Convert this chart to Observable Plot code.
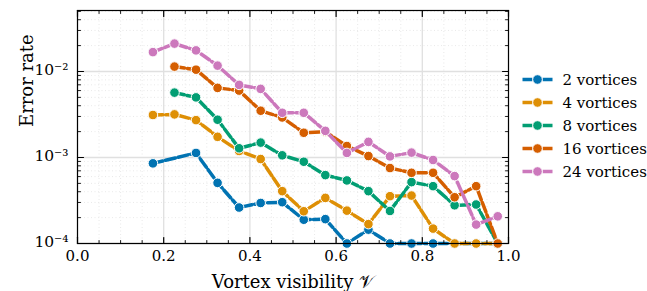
<!DOCTYPE html>
<html><head><meta charset="utf-8">
<script src="https://cdn.jsdelivr.net/npm/d3@7"></script>
<script src="https://cdn.jsdelivr.net/npm/@observablehq/plot@0.6"></script>
<style>
body{margin:0;background:#fff;}
#chart{width:647px;height:291px;}
</style></head><body><div id="chart"></div>
<script>
const visibility = [0.175,0.225,0.275,0.325,0.375,0.425,0.475,0.525,0.575,0.625,0.675,0.725,0.775,0.825,0.875,0.925,0.975];
const seriesNames = ["2 vortices","4 vortices","8 vortices","16 vortices","24 vortices"];
const seriesColors = ["#0173b2","#de8f05","#029e73","#d55e00","#cc78bc"];
const err2  = [8.55e-4,null,1.13e-3,5.07e-4,2.62e-4,2.96e-4,3.02e-4,1.89e-4,1.92e-4,1.0e-4,1.45e-4,1.0e-4,1.0e-4,1.0e-4,1.0e-4,1.0e-4,1.0e-4];
const err4  = [3.12e-3,3.17e-3,2.72e-3,1.74e-3,1.19e-3,9.6e-4,4.06e-4,2.37e-4,3.39e-4,2.41e-4,1.68e-4,3.55e-4,3.61e-4,1.49e-4,1.0e-4,1.0e-4,1.0e-4];
const err8  = [null,5.68e-3,5.0e-3,2.75e-3,1.28e-3,1.49e-3,1.06e-3,8.93e-4,6.24e-4,5.41e-4,4.06e-4,2.39e-4,5.17e-4,4.64e-4,2.78e-4,2.84e-4,1.0e-4];
const err16 = [null,1.14e-2,1.05e-2,6.45e-3,6.0e-3,3.5e-3,2.92e-3,1.94e-3,1.99e-3,1.36e-3,1.04e-3,7.54e-4,6.64e-4,6.64e-4,3.45e-4,4.64e-4,1.0e-4];
const err24 = [1.68e-2,2.11e-2,1.76e-2,1.17e-2,6.99e-3,6.28e-3,3.31e-3,3.31e-3,2.04e-3,1.13e-3,1.52e-3,1.03e-3,1.14e-3,9.35e-4,6.08e-4,1.66e-4,2.07e-4];
const xMajorTicks = [0,0.2,0.4,0.6,0.8,1.0];
const xTickLabels = ["0.0","0.2","0.4","0.6","0.8","1.0"];
const xMinorTicks = [0.05,0.1,0.15,0.25,0.3,0.35,0.45,0.5,0.55,0.65,0.7,0.75,0.85,0.9,0.95];
const yMajorTicks = [1e-4,1e-3,1e-2];
const yTickLabels = ["10\u207B\u2074","10\u207B\u00B3","10\u207B\u00B2"];
const yMinorTicks = [2e-4,3e-4,4e-4,5e-4,6e-4,7e-4,8e-4,9e-4,2e-3,3e-3,4e-3,5e-3,6e-3,7e-3,8e-3,9e-3,2e-2,3e-2,4e-2,5e-2];
const xDomain = [0, 1];
const yDomain = [1e-4, 0.0512];
const xLabel = "Vortex visibility \uD835\uDCB1";
const yLabel = "Error rate";

const allSeries = [err2, err4, err8, err16, err24];
const rows = [];
allSeries.forEach((arr, si) => arr.forEach((v, i) => { if (v != null) rows.push({series: seriesNames[si], x: visibility[i], y: v}); }));

const seriesMarks = [];
seriesNames.forEach((name, si) => {
  const d = rows.filter(r => r.series === name);
  seriesMarks.push(Plot.line(d, {x: "x", y: "y", stroke: seriesColors[si], strokeWidth: 3.5, strokeDasharray: "10,3"}));
  seriesMarks.push(Plot.dot(d, {x: "x", y: "y", r: 4.8, fill: seriesColors[si], stroke: "white", strokeWidth: 1}));
});

const stick = {draw(context, l) { context.moveTo(0, 0); context.lineTo(0, -l); }};
function ticksX(values, yAt, rot, len, sw) {
  return Plot.vector(values, {x: d => d, y: () => yAt, length: len, rotate: rot, anchor: "start", shape: stick, stroke: "black", strokeWidth: sw});
}
function ticksY(values, xAt, rot, len, sw) {
  return Plot.vector(values, {x: () => xAt, y: d => d, length: len, rotate: rot, anchor: "start", shape: stick, stroke: "black", strokeWidth: sw});
}

const chart = Plot.plot({
  width: 647, height: 291,
  marginLeft: 77, marginRight: 139, marginTop: 10, marginBottom: 48,
  x: {domain: xDomain, axis: null},
  y: {type: "log", domain: yDomain, axis: null},
  style: {fontFamily: "'DejaVu Serif', serif", fontSize: "15px", color: "black", background: "white"},
  marks: [
    Plot.ruleX(xMinorTicks, {stroke: "#e6e6e6", strokeWidth: 0.9, strokeDasharray: "1,2.5"}),
    Plot.ruleY(yMinorTicks, {stroke: "#e6e6e6", strokeWidth: 0.9, strokeDasharray: "1,2.5"}),
    Plot.ruleX(xMajorTicks, {stroke: "#e0e0e0", strokeWidth: 1.3}),
    Plot.ruleY(yMajorTicks, {stroke: "#e0e0e0", strokeWidth: 1.3}),
    ...seriesMarks,
    Plot.text(xMajorTicks, {x: d => d, y: () => yDomain[0], text: (d, i) => xTickLabels[i], lineAnchor: "top", dy: 7, fontSize: 15}),
    Plot.text(yMajorTicks, {x: () => xDomain[0], y: d => d, text: (d, i) => yTickLabels[i], textAnchor: "end", dx: -9, dy: -1, fontSize: 15.5}),
    ticksX(xMajorTicks, yDomain[0], 0, 6, 1.2),
    ticksX(xMinorTicks, yDomain[0], 0, 3, 0.9),
    ticksX(xMajorTicks, yDomain[1], 180, 6, 1.2),
    ticksX(xMinorTicks, yDomain[1], 180, 3, 0.9),
    ticksY(yMajorTicks, xDomain[0], 90, 6, 1.2),
    ticksY(yMinorTicks, xDomain[0], 90, 3, 0.9),
    ticksY(yMajorTicks, xDomain[1], -90, 6, 1.2),
    ticksY(yMinorTicks, xDomain[1], -90, 3, 0.9),
    Plot.text([yLabel], {frameAnchor: "left", rotate: -90, dx: -50, fontSize: 18, lineAnchor: "middle"}),
    Plot.text([xLabel], {frameAnchor: "bottom", dy: 39, fontSize: 18, lineAnchor: "middle"}),
    Plot.frame({stroke: "black", strokeWidth: 1.2})
  ]
});
document.getElementById("chart").appendChild(chart);

// legend
const svg = d3.select(chart);
const lg = svg.append("g").attr("font-family", "'DejaVu Serif', serif").attr("font-size", 15).attr("text-anchor", "start");
seriesNames.forEach((name, i) => {
  const cy = 79.5 + 23 * i;
  lg.append("line").attr("x1", 522.5).attr("x2", 552.5).attr("y1", cy).attr("y2", cy)
    .attr("stroke", seriesColors[i]).attr("stroke-width", 3.5).attr("stroke-dasharray", "10,10");
  lg.append("circle").attr("cx", 537.5).attr("cy", cy).attr("r", 4.8)
    .attr("fill", seriesColors[i]).attr("stroke", "white").attr("stroke-width", 1);
  lg.append("text").attr("x", 562.5).attr("y", cy).attr("dy", "0.35em").attr("fill", "black").attr("text-anchor", "start").text(name);
});
</script></body></html>
